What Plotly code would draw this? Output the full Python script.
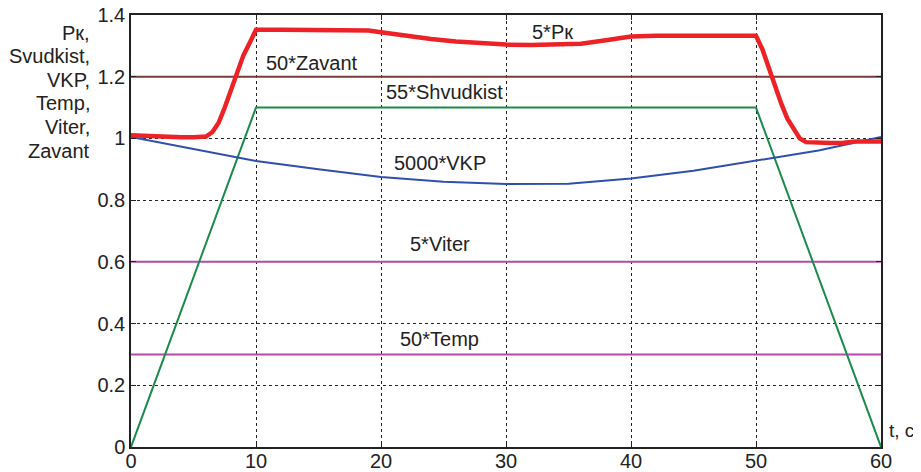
import plotly.graph_objects as go

# Time axis values and series
t_pk = [0, 1, 2, 3, 4, 5, 6, 6.5, 7, 7.5, 8, 8.5, 9, 9.5, 10, 12, 14, 16, 18, 19, 20, 22, 24, 26, 28,
        30, 32, 34, 36, 38, 40, 42, 44, 46, 48, 50, 50.5, 51, 51.5, 52, 52.5, 53, 53.5, 54, 55, 56,
        57, 58, 59, 60]
pk = [1.01, 1.008, 1.005, 1.004, 1.004, 1.004, 1.006, 1.02, 1.05, 1.1, 1.16, 1.22, 1.27, 1.31, 1.352,
      1.352, 1.352, 1.352, 1.353, 1.35, 1.344, 1.332, 1.322, 1.314, 1.308, 1.304, 1.303, 1.304, 1.307,
      1.318, 1.33, 1.333, 1.333, 1.333, 1.333, 1.333, 1.29, 1.23, 1.17, 1.115, 1.065, 1.03, 1.0, 0.988,
      0.985, 0.985, 0.986, 0.99, 0.99, 0.99]

t_vkp = [0, 5, 10, 15, 20, 25, 30, 35, 40, 45, 50, 55, 60]
vkp = [1.005, 0.966, 0.927, 0.9, 0.875, 0.86, 0.852, 0.853, 0.87, 0.895, 0.929, 0.961, 1.005]

t_shv = [0, 10, 50, 60]
shvudkist = [0, 1.1, 1.1, 0]

t_const = [0, 60]
zavant = [1.2, 1.2]
viter = [0.6, 0.6]
temp = [0.3, 0.3]

x_ticks = [0, 10, 20, 30, 40, 50, 60]
y_ticks = [0, 0.2, 0.4, 0.6, 0.8, 1, 1.2, 1.4]
y_tick_labels = ["0", "0.2", "0.4", "0.6", "0.8", "1", "1.2", "1.4"]

y_title_lines = ["Pк,", "Svudkist,", "VKP,", "Temp,", "Viter,", "Zavant"]
x_title = "t, c"

labels = ["5*Pк", "50*Zavant", "55*Shvudkist", "5000*VKP", "5*Viter", "50*Temp"]
label_x = [33.7, 14.5, 25.1, 24.7, 24.7, 24.7]
label_y = [1.346, 1.245, 1.152, 0.919, 0.658, 0.349]

FONT = "Liberation Sans, Arial, sans-serif"
TXT = "#222222"
FS = 20

fig = go.Figure()
fig.add_trace(go.Scatter(x=t_const, y=zavant, mode="lines", line=dict(color="#7b3b3b", width=2)))
fig.add_trace(go.Scatter(x=t_const, y=viter, mode="lines", line=dict(color="#b44aa6", width=2)))
fig.add_trace(go.Scatter(x=t_const, y=temp, mode="lines", line=dict(color="#b44aa6", width=2)))
fig.add_trace(go.Scatter(x=t_shv, y=shvudkist, mode="lines", line=dict(color="#1b8a4b", width=2)))
fig.add_trace(go.Scatter(x=t_vkp, y=vkp, mode="lines", line=dict(color="#2f4faf", width=2)))
fig.add_trace(go.Scatter(x=t_pk, y=pk, mode="lines", line=dict(color="#ec2227", width=4.5)))

for txt, lx, ly in zip(labels, label_x, label_y):
    fig.add_annotation(x=lx, y=ly, text=txt, showarrow=False, xref="x", yref="y",
                       font=dict(family=FONT, size=FS, color=TXT))

# plot area: 750 px wide, 432 px tall
PW, PH = 750.0, 432.0
for i, line in enumerate(y_title_lines):
    fig.add_annotation(xref="paper", yref="paper", x=-39 / PW, y=1 - (17.5 + 23.6 * i) / PH,
                       xanchor="right", yanchor="middle", align="right", showarrow=False,
                       text=line, font=dict(family=FONT, size=FS, color=TXT))
fig.add_annotation(xref="paper", yref="paper", x=1 + 6 / PW, y=17 / PH, xanchor="left",
                   yanchor="middle", showarrow=False, text=x_title,
                   font=dict(family=FONT, size=19, color=TXT))

axis_common = dict(showline=True, linecolor="#222222", linewidth=1.5, mirror="ticks",
                   ticks="inside", ticklen=5, tickcolor="#222222", automargin=False,
                   ticklabeloverflow="allow",
                   showgrid=True, gridcolor="#222222", gridwidth=1, griddash="dot",
                   zeroline=False, tickfont=dict(family=FONT, size=FS, color=TXT))

fig.update_xaxes(range=[0, 60], tickvals=x_ticks, ticklabelstandoff=-5, **axis_common)
fig.update_yaxes(range=[0, 1.4], tickvals=y_ticks, ticktext=y_tick_labels, **axis_common)

# page body has an 8px margin; size the figure so the plot lands where the reference has it
fig.update_layout(width=913, height=464, showlegend=False,
                  plot_bgcolor="white", paper_bgcolor="white",
                  margin=dict(l=123, r=40, t=7, b=25))

fig.write_html("out.html")
